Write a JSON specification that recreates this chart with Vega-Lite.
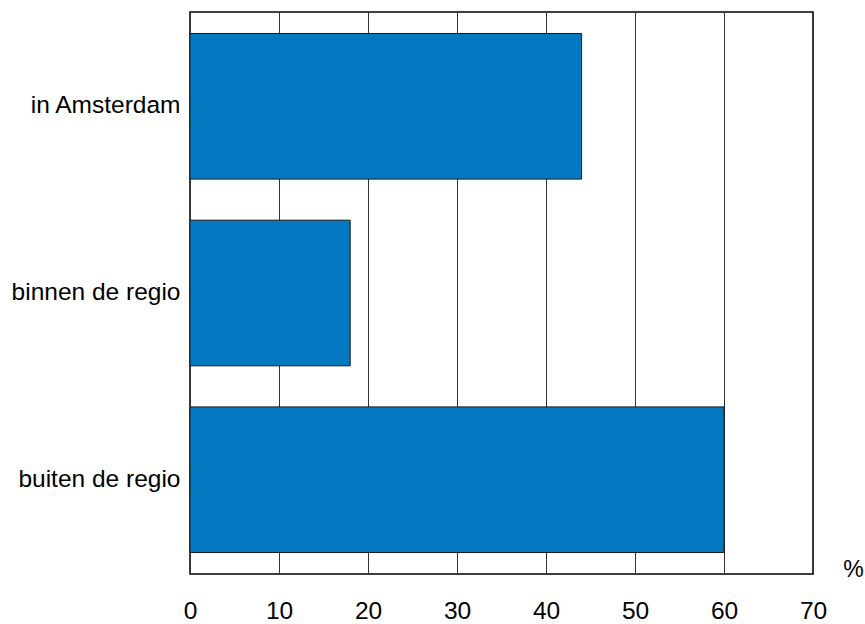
{
  "$schema": "https://vega.github.io/schema/vega-lite/v6.json",
  "width": 623,
  "height": 562,
  "autosize": "none",
  "padding": {"left": 190, "top": 12, "right": 52, "bottom": 50},
  "background": "white",
  "config": {
    "font": "Liberation Sans",
    "view": {"stroke": "#000000", "strokeWidth": 1.5}
  },
  "data": {
    "values": [
      {"herkomst": "in Amsterdam", "pct": 44},
      {"herkomst": "binnen de regio", "pct": 18},
      {"herkomst": "buiten de regio", "pct": 60}
    ]
  },
  "mark": {"type": "bar", "color": "#0479C1", "stroke": "#1a1a1a", "strokeWidth": 1},
  "encoding": {
    "y": {
      "field": "herkomst",
      "type": "nominal",
      "sort": null,
      "scale": {"paddingInner": 0.22, "paddingOuter": 0.115},
      "axis": {
        "title": null,
        "domain": false,
        "ticks": false,
        "labelPadding": 10,
        "labelFontSize": 24.5,
        "labelColor": "#000000",
        "grid": false
      }
    },
    "x": {
      "field": "pct",
      "type": "quantitative",
      "scale": {"domain": [0, 70], "nice": false},
      "axis": {
        "values": [0, 10, 20, 30, 40, 50, 60, 70],
        "title": "%",
        "titleFontSize": 23,
        "titleFontWeight": "normal",
        "titleColor": "#000000",
        "titleX": 663,
        "titleY": -5,
        "titleAlign": "center",
        "titleBaseline": "middle",
        "domain": false,
        "ticks": false,
        "labelPadding": 25,
        "labelFontSize": 24.5,
        "labelColor": "#000000",
        "labelFlush": false,
        "grid": true,
        "gridColor": "#333333",
        "gridWidth": 1,
        "gridOpacity": 1
      }
    }
  }
}
